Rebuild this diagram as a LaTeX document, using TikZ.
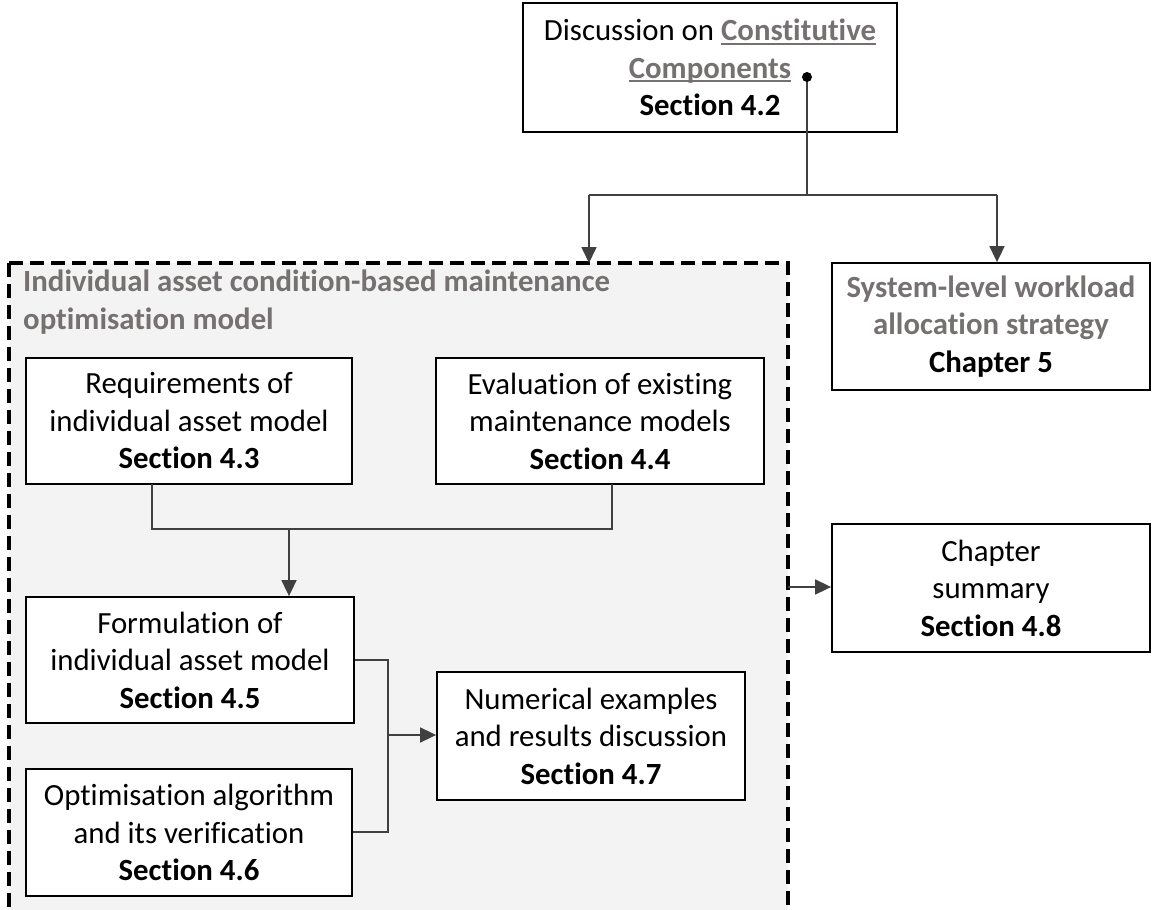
\documentclass[tikz,border=0pt]{standalone}
\usepackage{fontspec}
\setmainfont[Ligatures=NoCommon]{Carlito}
\usetikzlibrary{arrows.meta}
\definecolor{titlegray}{RGB}{118,113,113}
\definecolor{linegray}{RGB}{64,64,64}
\definecolor{panelfill}{RGB}{243,243,243}
% underline drawn at a fixed depth, independent of descenders
\newcommand{\ulinetext}[1]{\setbox0\hbox{#1}\rlap{\rule[-4pt]{\wd0}{2pt}}\box0}
\tikzset{
  txt/.style={font=\fontsize{30.8}{37.5}\selectfont, align=center},
  stepbox/.style={txt, draw=black, line width=1.8pt, fill=white, inner sep=0pt},
  conn/.style={draw=linegray, line width=1.7pt},
  arr/.style={conn, -{Triangle[length=16pt,width=15pt]}, fill=linegray},
  panel/.style={draw=black, line width=4pt, dash pattern=on 14pt off 7pt, fill=panelfill}
}
\begin{document}
\begin{tikzpicture}[x=1pt,y=-1pt]
\clip (0,0) rectangle (1152,910);
\fill[white] (0,0) rectangle (1152,910);

% framed region for the individual asset model
\draw[panel] (9,263) rectangle (788,940);
\coordinate (panelN) at (589,263);
\coordinate (panelE) at (788,587);
\node[txt, anchor=north west, align=left, text=titlegray, font=\fontsize{30.8}{37.5}\selectfont\bfseries, inner sep=0pt]
  (ptitle) at (23,270) {Individual asset condition-based maintenance\\optimisation model};

% boxes
\node[stepbox, minimum width=374pt, minimum height=129pt] (disc) at (710,67.5)
  {Discussion on {\bfseries\color{titlegray}\ulinetext{Constitutive}}\\
   {\bfseries\color{titlegray}\ulinetext{Components}}\\\textbf{Section 4.2}};
\node[stepbox, minimum width=318pt, minimum height=127pt] (sys) at (991,326.5)
  {{\bfseries\color{titlegray}System-level workload}\\{\bfseries\color{titlegray}allocation strategy}\\\textbf{Chapter 5}};
\node[stepbox, minimum width=326pt, minimum height=126pt] (req) at (189,421)
  {Requirements of\\individual asset model\\\textbf{Section 4.3}};
\node[stepbox, minimum width=328pt, minimum height=126pt] (eval) at (600,421)
  {Evaluation of existing\\maintenance models\\\textbf{Section 4.4}};
\node[stepbox, minimum width=328pt, minimum height=126pt] (form) at (190,660)
  {Formulation of\\individual asset model\\\textbf{Section 4.5}};
\node[stepbox, minimum width=326pt, minimum height=127pt] (opt) at (189,832.5)
  {Optimisation algorithm\\and its verification\\\textbf{Section 4.6}};
\node[stepbox, minimum width=308pt, minimum height=128pt] (num) at (591,736)
  {Numerical examples\\and results discussion\\\textbf{Section 4.7}};
\node[stepbox, minimum width=318pt, minimum height=128pt] (summ) at (991,588)
  {Chapter\\summary\\\textbf{Section 4.8}};

% connectors from the discussion box
\coordinate (dot) at (807,77);
\coordinate (splitL) at (589,195);
\coordinate (splitR) at (997,195);
\draw[conn] (dot) -- (dot |- splitL);
\draw[conn] (splitL) -- (splitR);
\fill[black] (dot) circle (5pt);
\draw[arr] (splitL) -- (panelN);
\draw[arr] (splitR) -- (splitR |- sys.north);

% merge of sections 4.3 and 4.4 into 4.5
\coordinate (reqS) at (152,484);
\coordinate (evalS) at (612,484);
\coordinate (mergeA) at (152,529);
\coordinate (mergeB) at (612,529);
\coordinate (mergeC) at (289,529);
\draw[conn] (reqS) -- (mergeA) -- (mergeB) -- (evalS);
\draw[arr] (mergeC) -- (mergeC |- form.north);

% merge of sections 4.5 and 4.6 into 4.7
\coordinate (bracketT) at (388,660);
\coordinate (bracketB) at (388,832);
\coordinate (bracketM) at (388,735);
\draw[conn] (form.east |- bracketT) -- (bracketT) -- (bracketB) -- (opt.east |- bracketB);
\draw[arr] (bracketM) -- (bracketM -| num.west);

% towards the chapter summary
\draw[arr] (panelE) -- (panelE -| summ.west);
\end{tikzpicture}
\end{document}
